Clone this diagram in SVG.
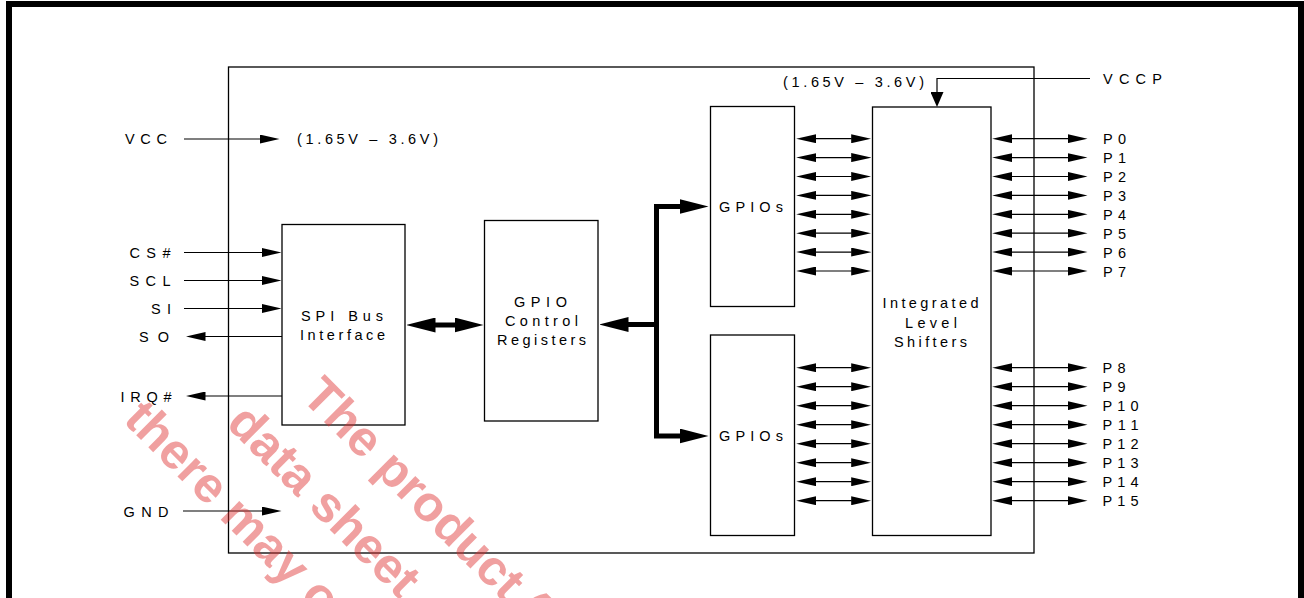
<svg xmlns="http://www.w3.org/2000/svg" width="1304" height="598" viewBox="0 0 1304 598">
<style>
.bx{fill:#fff;stroke:#000;stroke-width:1.3}
.t{font-family:"Liberation Sans",Arial,sans-serif;font-size:14.5px;fill:#000}
.ln{fill:none;stroke:#000;stroke-width:1.2}
.bd{fill:none;stroke:#000;stroke-width:5}
.wm{font-family:"Liberation Sans",Arial,sans-serif;font-size:50px;font-weight:bold;fill:#de2c2c;fill-opacity:0.45}
</style>
<defs>
<marker id="ah" viewBox="0 0 20 9" refX="0.5" refY="4.5" markerWidth="20" markerHeight="9" markerUnits="userSpaceOnUse" orient="auto-start-reverse"><path d="M0,0L20,4.5L0,9z" fill="#000"/></marker>
<marker id="bh" viewBox="0 0 29 15" refX="0.5" refY="7.5" markerWidth="29" markerHeight="15" markerUnits="userSpaceOnUse" orient="auto-start-reverse"><path d="M0,0L29,7.5L0,15z" fill="#000"/></marker>
<marker id="vh" viewBox="0 0 15 13" refX="0.5" refY="6.5" markerWidth="15" markerHeight="13" markerUnits="userSpaceOnUse" orient="auto-start-reverse"><path d="M0,0L15,6.5L0,13z" fill="#000"/></marker>
</defs>
<rect width="1304" height="598" fill="#fff"/>
<path d="M9,700V4H1301V700" fill="none" stroke="#000" stroke-width="6"/>
<rect id="chip" class="bx" x="228.5" y="67" width="805.5" height="486" fill="none"/>

<g id="spi"><rect class="bx" x="282" y="224.5" width="123" height="200.5"/>
<text class="t" x="301" y="321" textLength="82">SPI Bus</text>
<text class="t" x="300" y="340" textLength="85">Interface</text></g>
<g id="gcr"><rect class="bx" x="484.5" y="220.5" width="113.5" height="200.5"/>
<text class="t" x="514" y="307" textLength="53">GPIO</text>
<text class="t" x="505" y="326" textLength="73">Control</text>
<text class="t" x="497" y="345" textLength="89">Registers</text></g>
<g id="gpio1"><rect class="bx" x="710.5" y="106.5" width="84" height="200"/>
<text class="t" x="719" y="211.5" textLength="64">GPIOs</text></g>
<g id="gpio2"><rect class="bx" x="710.5" y="335" width="84" height="200.5"/>
<text class="t" x="719" y="440.7" textLength="64">GPIOs</text></g>
<g id="ls"><rect class="bx" x="872.5" y="107" width="118.5" height="428.5"/>
<text class="t" x="882.5" y="307.7" textLength="96">Integrated</text>
<text class="t" x="905" y="327.7" textLength="52">Level</text>
<text class="t" x="894" y="346.7" textLength="73">Shifters</text></g>

<g id="labels">
<text class="t" x="125" y="144" textLength="42">VCC</text>
<text class="t" x="297" y="144" textLength="141">(1.65V – 3.6V)</text>
<text class="t" x="783" y="86.5" textLength="141">(1.65V – 3.6V)</text>
<text class="t" x="1103" y="84.3" textLength="59">VCCP</text>
<text class="t" x="129.5" y="258" textLength="41">CS#</text>
<text class="t" x="129.5" y="286" textLength="41">SCL</text>
<text class="t" x="151" y="314" textLength="20">SI</text>
<text class="t" x="139" y="341.8" textLength="30">SO</text>
<text class="t" x="120.5" y="401.7" textLength="51">IRQ#</text>
<text class="t" x="123.5" y="516.7" textLength="45">GND</text>
<text class="t" x="1103" y="144.2" textLength="23">P0</text>
<text class="t" x="1103" y="163.1" textLength="23">P1</text>
<text class="t" x="1103" y="182" textLength="23">P2</text>
<text class="t" x="1103" y="200.9" textLength="23">P3</text>
<text class="t" x="1103" y="219.8" textLength="23">P4</text>
<text class="t" x="1103" y="238.7" textLength="23">P5</text>
<text class="t" x="1103" y="257.6" textLength="23">P6</text>
<text class="t" x="1103" y="276.5" textLength="23">P7</text>
<text class="t" x="1102.5" y="373.2" textLength="23">P8</text>
<text class="t" x="1102.5" y="392.2" textLength="23">P9</text>
<text class="t" x="1102.5" y="411.2" textLength="36">P10</text>
<text class="t" x="1102.5" y="430.2" textLength="36">P11</text>
<text class="t" x="1102.5" y="449.2" textLength="36">P12</text>
<text class="t" x="1102.5" y="468.2" textLength="36">P13</text>
<text class="t" x="1102.5" y="487.2" textLength="36">P14</text>
<text class="t" x="1102.5" y="506.2" textLength="36">P15</text>
</g>

<g id="connectors">
<g class="ln" marker-end="url(#ah)">
<path d="M184,139H260"/>
<path d="M183,511H262"/>
<path d="M184,252.5H262"/>
<path d="M184,280.5H262"/>
<path d="M184,308.5H262"/>
<path d="M282,336.5H205"/>
<path d="M282,396H205"/>
</g>
<path class="ln" d="M1090,78.5H937V92.5" marker-end="url(#vh)"/>
<path class="bd" stroke-width="4.5" d="M435,325H455" marker-start="url(#bh)" marker-end="url(#bh)"/>
<path class="bd" d="M680,206.5H656.5V436H680" marker-start="url(#bh)" marker-end="url(#bh)"/>
<path class="bd" d="M656.5,324.5H628" marker-end="url(#bh)"/>
<g class="ln" marker-start="url(#ah)" marker-end="url(#ah)">
<path d="M815.7,138.7H851.7"/><path d="M815.7,157.6H851.7"/><path d="M815.7,176.5H851.7"/><path d="M815.7,195.4H851.7"/>
<path d="M815.7,214.3H851.7"/><path d="M815.7,233.2H851.7"/><path d="M815.7,252.1H851.7"/><path d="M815.7,271H851.7"/>
<path d="M815.7,367.7H851.7"/><path d="M815.7,386.7H851.7"/><path d="M815.7,405.7H851.7"/><path d="M815.7,424.7H851.7"/>
<path d="M815.7,443.7H851.7"/><path d="M815.7,462.7H851.7"/><path d="M815.7,481.7H851.7"/><path d="M815.7,500.7H851.7"/>
<path d="M1011.7,138.7H1068"/><path d="M1011.7,157.6H1068"/><path d="M1011.7,176.5H1068"/><path d="M1011.7,195.4H1068"/>
<path d="M1011.7,214.3H1068"/><path d="M1011.7,233.2H1068"/><path d="M1011.7,252.1H1068"/><path d="M1011.7,271H1068"/>
<path d="M1011.7,367.7H1068"/><path d="M1011.7,386.7H1068"/><path d="M1011.7,405.7H1068"/><path d="M1011.7,424.7H1068"/>
<path d="M1011.7,443.7H1068"/><path d="M1011.7,462.7H1068"/><path d="M1011.7,481.7H1068"/><path d="M1011.7,500.7H1068"/>
</g>
</g>

<g id="watermark" class="wm">
<text transform="translate(300,398) rotate(45)">The product (</text>
<text transform="translate(225,425) rotate(45)">data sheet</text>
<text transform="translate(122,421) rotate(45)">there may o</text>
</g>
</svg>
